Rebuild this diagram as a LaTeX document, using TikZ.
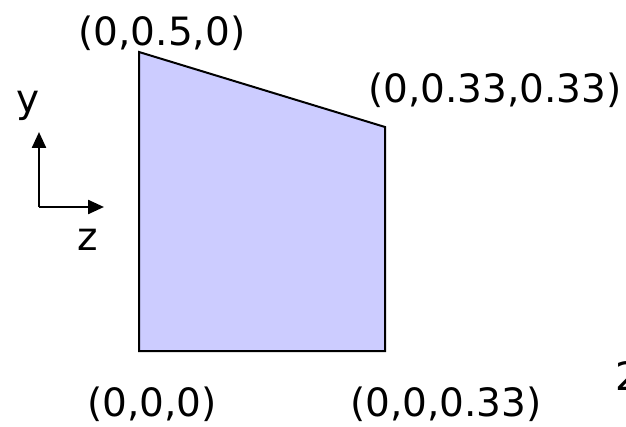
\documentclass[tikz,border=0pt]{standalone}
\usepackage{fontspec}
\setmainfont{DejaVu Sans}
\usetikzlibrary{arrows.meta}
\definecolor{facefill}{RGB}{204,204,255}
\tikzset{
  lbl/.style={font=\fontsize{19.5}{23}\selectfont, inner sep=0pt, anchor=base},
  axis/.style={line width=1.2pt, -{Triangle[length=8pt,width=7pt]}},
  face/.style={fill=facefill, draw=black, line width=1pt}
}
\begin{document}
\begin{tikzpicture}[x=0.5pt,y=-0.5pt]
\useasboundingbox (0,0) rectangle (626,427);
\clip (0,0) rectangle (626,427);
\coordinate (A) at (139,52);
\coordinate (B) at (385,127);
\coordinate (C) at (385,351);
\coordinate (D) at (139,351);
\draw[face] (A) -- (B) -- (C) -- (D) -- cycle;
\node[lbl] (la) at (162,46) {(0,0.5,0)};
\node[lbl] (lb) at (495,103) {(0,0.33,0.33)};
\node[lbl] (lc) at (152,416) {(0,0,0)};
\node[lbl] (ld) at (446,416) {(0,0,0.33)};
\node[lbl, anchor=base west] (pg) at (615,390) {2};
\coordinate (O) at (39,207);
\coordinate (Y) at (39,132);
\coordinate (Z) at (104,207);
\draw[axis] (O) -- (Y);
\draw[axis] (O) -- (Z);
\node[lbl] (ly) at (28,113) {y};
\node[lbl] (lz) at (88,250) {z};
\end{tikzpicture}
\end{document}
